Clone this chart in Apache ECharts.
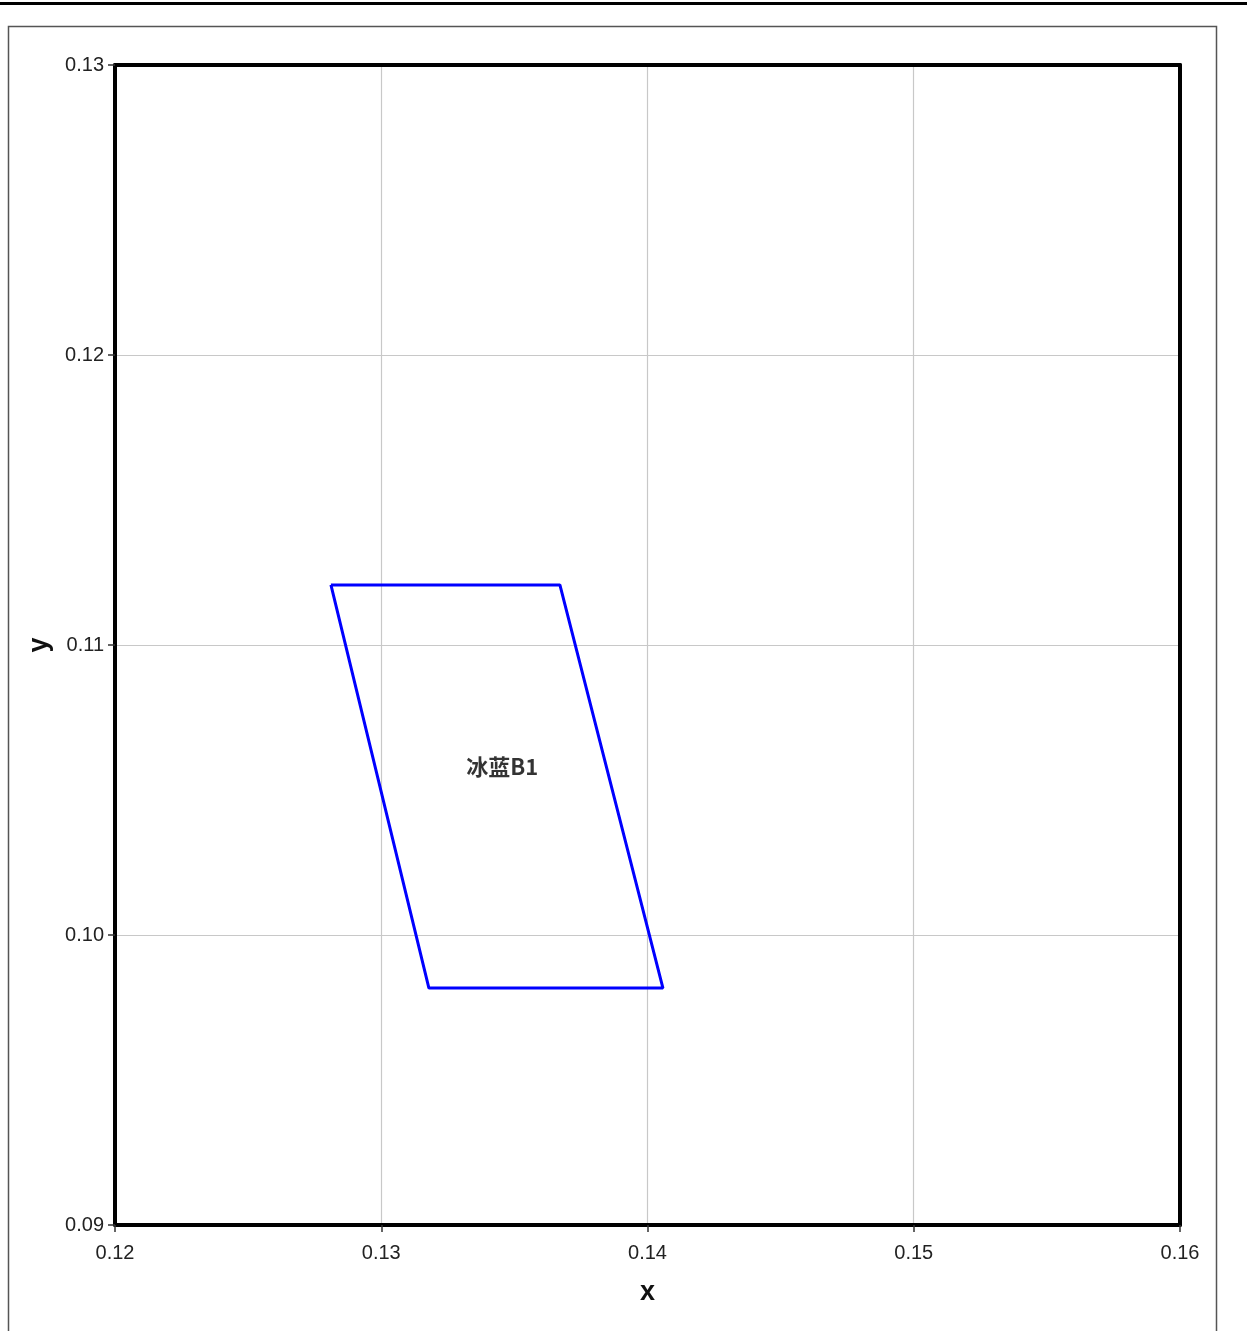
<!DOCTYPE html>
<html>
<head>
<meta charset="utf-8">
<script src="https://cdn.jsdelivr.net/npm/echarts@6/dist/echarts.min.js"></script>
<style>html,body{margin:0;padding:0;background:#fff;}#c{width:1247px;height:1331px;}</style>
</head>
<body>
<div id="c"></div>
<script>
const xTicks = [0.12, 0.13, 0.14, 0.15, 0.16];
const yTicks = [0.09, 0.10, 0.11, 0.12, 0.13];
const regionName = '冰蓝B1';
const regionX = [0.12811, 0.13671, 0.14058, 0.13179, 0.12811];
const regionY = [0.11207, 0.11207, 0.09817, 0.09817, 0.11207];
const labelPos = [0.13454, 0.10579];

const chart = echarts.init(document.getElementById('c'), null, {renderer: 'canvas'});
const lineData = regionX.map((x, i) => [x, regionY[i]]);
const tickFont = {fontFamily: 'Liberation Sans, Arial, sans-serif', fontSize: 20, color: '#222'};
const nameFont = {fontFamily: 'Liberation Sans, Arial, sans-serif', fontSize: 27, fontWeight: 'bold', color: '#111'};
const xMin = xTicks[0], xMax = xTicks[xTicks.length - 1];
const yMin = yTicks[0], yMax = yTicks[yTicks.length - 1];
const frameAxis = {
  type: 'value', show: true,
  axisLine: {show: true, onZero: false, lineStyle: {color: '#000', width: 4}},
  axisTick: {show: false}, axisLabel: {show: false}, splitLine: {show: false}
};
chart.setOption({
  animation: false,
  backgroundColor: '#fff',
  graphic: [
    {type: 'rect', shape: {x: 0, y: 2, width: 1247, height: 3}, style: {fill: '#000'}, z: 100},
    {type: 'rect', shape: {x: 8.5, y: 26.5, width: 1208, height: 1320}, style: {fill: 'none', stroke: '#555', lineWidth: 1.5}, z: -1}
  ],
  grid: {left: 115, right: 67, top: 65, bottom: 106, show: false},
  xAxis: [{
    type: 'value', min: xMin, max: xMax, interval: 0.01,
    name: 'x', nameLocation: 'middle', nameGap: 54,
    nameTextStyle: nameFont,
    axisLine: {show: true, onZero: false, lineStyle: {color: '#000', width: 4}},
    axisTick: {show: true, length: 7, lineStyle: {color: '#333', width: 1.5}},
    axisLabel: Object.assign({margin: 18, formatter: v => v.toFixed(2)}, tickFont),
    splitLine: {show: true, lineStyle: {color: '#c8c8c8', width: 1.2}},
    z: 3
  }, Object.assign({position: 'top', min: xMin, max: xMax, z: 3}, frameAxis)],
  yAxis: [{
    type: 'value', min: yMin, max: yMax, interval: 0.01,
    name: 'y', nameLocation: 'middle', nameGap: 62, nameRotate: 90,
    nameTextStyle: nameFont,
    axisLine: {show: true, onZero: false, lineStyle: {color: '#000', width: 4}},
    axisTick: {show: true, length: 7, lineStyle: {color: '#333', width: 1.5}},
    axisLabel: Object.assign({margin: 11, formatter: v => v.toFixed(2)}, tickFont),
    splitLine: {show: true, lineStyle: {color: '#c8c8c8', width: 1.2}},
    z: 3
  }, Object.assign({position: 'right', min: yMin, max: yMax, z: 3}, frameAxis)],
  series: [
    {
      type: 'line', data: lineData, showSymbol: false, symbol: 'none',
      lineStyle: {color: '#0000ff', width: 3}, z: 5
    },
    {
      type: 'scatter', data: [{value: labelPos, name: regionName}], symbolSize: 0,
      label: {show: true, position: 'inside', formatter: p => p.name,
        fontFamily: 'Noto Sans CJK SC', fontWeight: 'bold', fontSize: 22, color: '#000'},
      z: 6
    }
  ]
});
</script>
</body>
</html>
